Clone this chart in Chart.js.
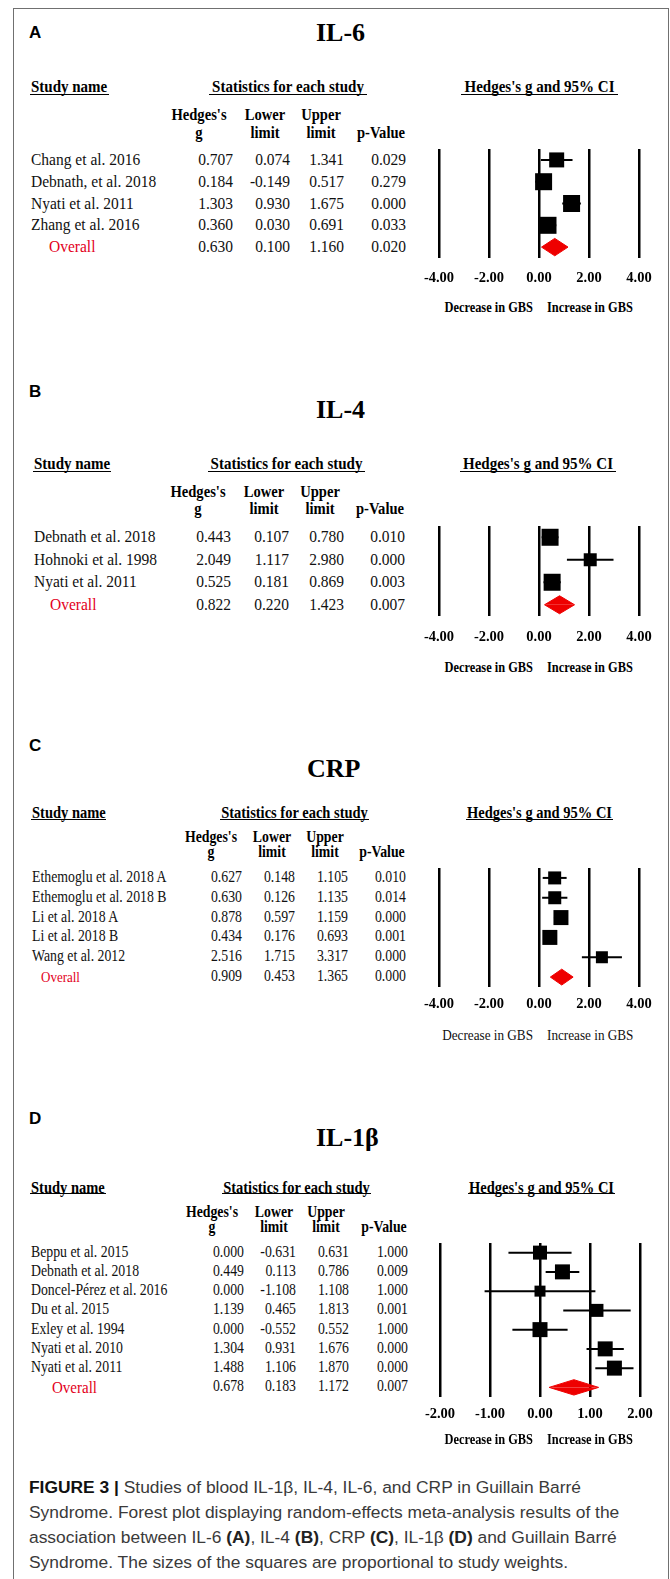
<!DOCTYPE html>
<html>
<head>
<meta charset="utf-8">
<script src="https://cdn.jsdelivr.net/npm/chart.js@4.4.1/dist/chart.umd.min.js"></script>
<style>
body { margin: 0; width: 670px; height: 1579px; overflow: hidden; background: #fff; position: relative; font-family: 'Liberation Serif', 'Times New Roman', serif; color: #111; }
.frame { position: absolute; left: 13px; top: 8px; width: 654px; height: 1620px; border: 1.5px solid #707070; border-bottom: none; }
.t { position: absolute; white-space: nowrap; line-height: 1.2; }
.letter { font-family: 'Liberation Sans', Arial, sans-serif; font-weight: bold; font-size: 17px; color: #000; }
.title { font-weight: bold; font-size: 26px; color: #000; }
.head { position: absolute; white-space: nowrap; font-weight: bold; border-bottom: 1.3px solid #000; color: #000; }
.head span { display: inline-block; transform: scaleY(1.14); }
.bold { font-weight: bold; color: #000; }
.red { color: #e3001b; }
.cap { position: absolute; left: 29px; white-space: nowrap; font-family: 'Liberation Sans', Arial, sans-serif; font-size: 17.4px; color: #3a3a3a; line-height: 25px; }
.cap b { color: #222; }
canvas { position: absolute; }
</style>
</head>
<body>
<div class="frame"></div>

<script>
// IL-6
const il6Studies = ['Chang et al. 2016', 'Debnath, et al. 2018', 'Nyati et al. 2011', 'Zhang et al. 2016']
const il6G = [0.707, 0.184, 1.303, 0.360]
const il6Lower = [0.074, -0.149, 0.930, 0.030]
const il6Upper = [1.341, 0.517, 1.675, 0.691]
const il6P = [0.029, 0.279, 0.000, 0.033]
const il6Weight = [15, 17, 17, 17]
const il6Overall = [0.630, 0.100, 1.160, 0.020]
const il6Ticks = [-4, -2, 0, 2, 4]

// IL-4
const il4Studies = ['Debnath et al. 2018', 'Hohnoki et al. 1998', 'Nyati et al. 2011']
const il4G = [0.443, 2.049, 0.525]
const il4Lower = [0.107, 1.117, 0.181]
const il4Upper = [0.780, 2.980, 0.869]
const il4P = [0.010, 0.000, 0.003]
const il4Weight = [17, 13, 17]
const il4Overall = [0.822, 0.220, 1.423, 0.007]
const il4Ticks = [-4, -2, 0, 2, 4]

// CRP
const crpStudies = ['Ethemoglu et al. 2018 A', 'Ethemoglu et al. 2018 B', 'Li et al. 2018 A', 'Li et al. 2018 B', 'Wang et al. 2012']
const crpG = [0.627, 0.630, 0.878, 0.434, 2.516]
const crpLower = [0.148, 0.126, 0.597, 0.176, 1.715]
const crpUpper = [1.105, 1.135, 1.159, 0.693, 3.317]
const crpP = [0.010, 0.014, 0.000, 0.001, 0.000]
const crpWeight = [13, 13, 15, 15, 12]
const crpOverall = [0.909, 0.453, 1.365, 0.000]
const crpTicks = [-4, -2, 0, 2, 4]

// IL-1β
const il1bStudies = ['Beppu et al. 2015', 'Debnath et al. 2018', 'Doncel-Pérez et al. 2016', 'Du et al. 2015', 'Exley et al. 1994', 'Nyati et al. 2010', 'Nyati et al. 2011']
const il1bG = [0.000, 0.449, 0.000, 1.139, 0.000, 1.304, 1.488]
const il1bLower = [-0.631, 0.113, -1.108, 0.465, -0.552, 0.931, 1.106]
const il1bUpper = [0.631, 0.786, 1.108, 1.813, 0.552, 1.676, 1.870]
const il1bP = [1.000, 0.009, 1.000, 0.001, 1.000, 0.000, 0.000]
const il1bWeight = [14, 15, 11, 13, 15, 15, 15]
const il1bOverall = [0.678, 0.183, 1.172, 0.007]
const il1bTicks = [-2, -1, 0, 1, 2]

const RED = '#ee0000'
const PAD_TOP = 12
const AXIS_H = 36
const STRETCH = 1.14

// layout of each panel (pixel positions only)
const panels = [
	{ letter: 'A', title: 'IL-6', letterY: 33, titleX: 316, titleY: 33,
		headY: 86, ulY: 94, headSize: 15, colY: [115, 133], colSize: 14.6, rowSize: 15.5,
		study: [30, 108], stats: [209, 367], ci: [461, 618],
		colC: [199, 265, 321, 381], colR: [233, 290, 344, 406],
		overallX: 49, overallSize: 15.5, lineTop: 149, lineBottom: 258, tickPad: 12, decY: 308, decBold: true,
		padL: 39, padR: 26,
		studies: il6Studies, g: il6G, lower: il6Lower, upper: il6Upper, p: il6P, w: il6Weight, overall: il6Overall, ticks: il6Ticks },
	{ letter: 'B', title: 'IL-4', letterY: 392, titleX: 316, titleY: 410,
		headY: 463, ulY: 471, headSize: 15, colY: [492, 509], colSize: 14.6, rowSize: 15.5,
		study: [33, 110], stats: [208, 365], ci: [460, 616],
		colC: [198, 264, 320, 380], colR: [231, 289, 344, 405],
		overallX: 50, overallSize: 15.5, lineTop: 526, lineBottom: 616, tickPad: 13, decY: 668, decBold: true,
		padL: 39, padR: 26,
		studies: il4Studies, g: il4G, lower: il4Lower, upper: il4Upper, p: il4P, w: il4Weight, overall: il4Overall, ticks: il4Ticks },
	{ letter: 'C', title: 'CRP', letterY: 746, titleX: 307, titleY: 769,
		headY: 812, ulY: 819, headSize: 14.5, colY: [838, 853], colSize: 13.8, rowSize: 13.8,
		study: [31, 105], stats: [220, 369], ci: [466, 613],
		colC: [211, 272, 325, 382], colR: [242, 295, 348, 406],
		overallX: 41, overallSize: 13, lineTop: 868, lineBottom: 987, tickPad: 9, decY: 1035, decBold: false,
		padL: 39, padR: 26,
		studies: crpStudies, g: crpG, lower: crpLower, upper: crpUpper, p: crpP, w: crpWeight, overall: crpOverall, ticks: crpTicks },
	{ letter: 'D', title: 'IL-1β', letterY: 1119, titleX: 316, titleY: 1138,
		headY: 1187, ulY: 1193, headSize: 14.5, colY: [1213, 1228], colSize: 13.8, rowSize: 13.8,
		study: [30, 105], stats: [222, 371], ci: [468, 615],
		colC: [212, 274, 326, 384], colR: [244, 296, 349, 408],
		overallX: 52, overallSize: 15, lineTop: 1243, lineBottom: 1397, tickPad: 9, decY: 1440, decBold: true,
		padL: 40, padR: 25,
		studies: il1bStudies, g: il1bG, lower: il1bLower, upper: il1bUpper, p: il1bP, w: il1bWeight, overall: il1bOverall, ticks: il1bTicks },
]

function txt(x, y, str, size, cls, align, stretch) {
	const d = document.createElement('div')
	d.className = 't ' + (cls || '')
	d.textContent = str
	d.style.left = x + 'px'
	d.style.top = y + 'px'
	if (size) d.style.fontSize = size + 'px'
	const tx = align === 'right' ? '-100%' : align === 'center' ? '-50%' : '0'
	d.style.transform = 'translate(' + tx + ', -50%) scaleY(' + (stretch || 1) + ')'
	document.body.appendChild(d)
	return d
}

function head(range, y, ulY, str, size, align) {
	const d = document.createElement('div')
	d.className = 'head'
	const sp = document.createElement('span')
	sp.textContent = str
	d.appendChild(sp)
	const lh = 2 * (ulY - y)
	d.style.left = range[0] + 'px'
	d.style.width = (range[1] - range[0]) + 'px'
	d.style.top = (y - lh / 2) + 'px'
	d.style.height = lh + 'px'
	d.style.lineHeight = lh + 'px'
	d.style.fontSize = size + 'px'
	d.style.textAlign = align
	if (align === 'left') d.style.paddingLeft = '1px'
	document.body.appendChild(d)
}

function drawPanel(P) {
	const n = P.studies.length + 1
	const rowH = (P.lineBottom - P.lineTop) / n
	const rowY = (i) => P.lineTop + (i + 0.5) * rowH

	txt(29, P.letterY, P.letter, null, 'letter')
	txt(P.titleX, P.titleY, P.title, null, 'title')

	head(P.study, P.headY, P.ulY, 'Study name', P.headSize, 'left')
	head(P.stats, P.headY, P.ulY, 'Statistics for each study', P.headSize, 'center')
	head(P.ci, P.headY, P.ulY, "Hedges's g and 95% CI", P.headSize, 'center')

	const colTop = ["Hedges's", 'Lower', 'Upper', '']
	const colBottom = ['g', 'limit', 'limit', 'p-Value']
	colTop.forEach((s, k) => { if (s) txt(P.colC[k], P.colY[0], s, P.colSize, 'bold', 'center', STRETCH) })
	colBottom.forEach((s, k) => txt(P.colC[k], P.colY[1], s, P.colSize, 'bold', 'center', STRETCH))

	P.studies.forEach((s, i) => {
		const y = rowY(i)
		txt(P.study[0] + 1, y, s, P.rowSize, '', 'left', STRETCH)
		const vals = [P.g[i], P.lower[i], P.upper[i], P.p[i]]
		vals.forEach((v, k) => txt(P.colR[k], y, v.toFixed(3), P.rowSize, '', 'right', STRETCH))
	})
	const yo = rowY(n - 1)
	txt(P.overallX, yo, 'Overall', P.overallSize, 'red', 'left', STRETCH)
	P.overall.forEach((v, k) => txt(P.colR[k], yo, v.toFixed(3), P.rowSize, '', 'right', STRETCH))

	// forest plot
	const cv = document.createElement('canvas')
	const cw = 265
	const ch = PAD_TOP + (P.lineBottom - P.lineTop) + AXIS_H
	cv.width = cw
	cv.height = ch
	cv.style.left = '400px'
	cv.style.top = (P.lineTop - PAD_TOP) + 'px'
	cv.style.width = cw + 'px'
	cv.style.height = ch + 'px'
	document.body.appendChild(cv)

	const datasets = []
	P.studies.forEach((s, i) => {
		datasets.push({
			type: 'line',
			data: [{ x: P.lower[i], y: i + 1 }, { x: P.upper[i], y: i + 1 }],
			borderColor: '#000', borderWidth: 2, pointRadius: 0, fill: false, clip: false,
		})
	})
	datasets.push({
		type: 'scatter',
		data: P.g.map((v, i) => ({ x: v, y: i + 1 })),
		pointStyle: 'rect',
		pointRadius: P.w.map((s) => s / Math.SQRT2),
		backgroundColor: '#000', borderWidth: 0, clip: false,
	})
	const [og, olo, ohi] = P.overall
	;[-0.4, 0.4].forEach((h) => {
		datasets.push({
			type: 'line',
			data: [{ x: olo, y: n }, { x: og, y: n + h }, { x: ohi, y: n }],
			borderColor: RED, backgroundColor: RED, borderWidth: 1, pointRadius: 0,
			tension: 0, fill: { value: n }, clip: false,
		})
	})

	new Chart(cv, {
		type: 'scatter',
		data: { datasets },
		options: {
			responsive: false,
			animation: false,
			devicePixelRatio: 1,
			layout: { padding: { left: P.padL, right: P.padR, top: PAD_TOP, bottom: 0 } },
			plugins: { legend: { display: false }, tooltip: { enabled: false } },
			scales: {
				x: {
					type: 'linear',
					min: P.ticks[0],
					max: P.ticks[P.ticks.length - 1],
					afterBuildTicks: (s) => { s.ticks = P.ticks.map((v) => ({ value: v })) },
					afterFit: (s) => { s.height = AXIS_H },
					grid: { color: '#000', lineWidth: 2.5, drawTicks: false },
					border: { display: false },
					ticks: {
						padding: P.tickPad, color: '#000', autoSkip: false, maxRotation: 0,
						font: { family: 'Liberation Serif', size: 14.5, weight: 'bold' },
						callback: (v) => Number(v).toFixed(2),
					},
				},
				y: { type: 'linear', display: false, min: 0.5, max: n + 0.5, reverse: true },
			},
		},
	})

	const decSize = P.decBold ? 12.4 : 13.2
	const decCls = P.decBold ? 'bold' : ''
	txt(533, P.decY, 'Decrease in GBS', decSize, decCls, 'right', STRETCH)
	txt(547, P.decY, 'Increase in GBS', decSize, decCls, 'left', STRETCH)
}

panels.forEach(drawPanel)

// caption
const capLines = [
	'<b style="color:#111">FIGURE 3 |</b> Studies of blood IL-1β, IL-4, IL-6, and CRP in Guillain Barré',
	'Syndrome. Forest plot displaying random-effects meta-analysis results of the',
	'association between IL-6 <b>(A)</b>, IL-4 <b>(B)</b>, CRP <b>(C)</b>, IL-1β <b>(D)</b> and Guillain Barré',
	'Syndrome. The sizes of the squares are proportional to study weights.',
]
const capY = [1487, 1512, 1537, 1562]
capLines.forEach((h, i) => {
	const d = document.createElement('div')
	d.className = 'cap'
	d.innerHTML = h
	d.style.top = (capY[i] - 12.5) + 'px'
	document.body.appendChild(d)
})
</script>
</body>
</html>
